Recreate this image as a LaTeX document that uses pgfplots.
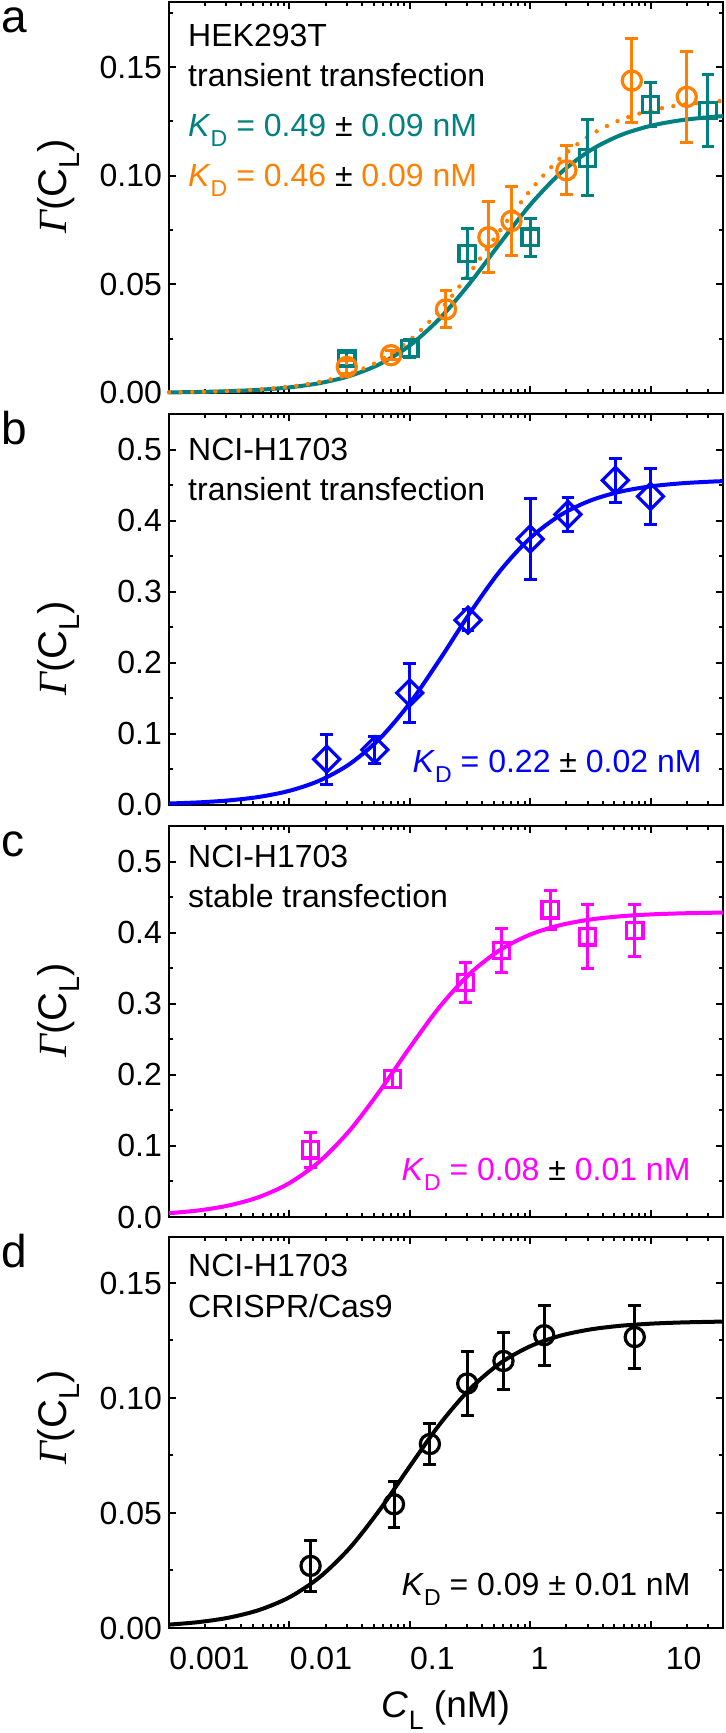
\documentclass[border=0pt]{standalone}
\usepackage{fontspec}
\setmainfont{Liberation Sans}
\newfontfamily\gfont{Liberation Serif}
\usepackage{graphicx}
\usepackage{pgfplots}
\pgfplotsset{compat=1.18}

\definecolor{tealc}{RGB}{0,128,128}
\definecolor{orangec}{RGB}{255,128,0}
\definecolor{bluec}{RGB}{0,0,255}
\definecolor{magc}{RGB}{255,0,255}

\newcommand\sub[1]{\raisebox{-0.32em}{\scalebox{0.72}{#1}}}
\newcommand\txt{\fontsize{16}{19}\selectfont}
\newcommand\gam{{\gfont\itshape Γ}(C\sub{L})}
\newcommand\KD[3]{\textcolor{#1}{\textit{K}\sub{D} = #2}~±~\textcolor{#1}{#3 nM}}
% y label of a panel, centred at a fraction of the axis height
\newcommand\ylab[1]{\node[rotate=90, anchor=center, inner sep=0pt, font=\fontsize{20}{22}\selectfont] at (axis description cs:-0.2,#1) {\gam};}

% shared axis settings
\pgfplotsset{
  scale only axis, width=277pt, height=195.5pt,
  tick align=inside,
  major tick length=3.4pt, minor tick length=1.8pt,
  every tick/.append style={line width=1pt, black},
  axis line style={line width=1.2pt},
  tick label style={font=\txt},
}

\begin{document}
\begin{tikzpicture}
\useasboundingbox (-84.5pt,0pt) rectangle (278.5pt,866.5pt);

% ---------------- a ----------------
\begin{axis}[at={(0pt,670pt)}, xmode=log, xmin=0.001, xmax=40,
  xtick={0.001,0.01,0.1,1,10},
  minor xtick={0.002,0.003,0.004,0.005,0.006,0.007,0.008,0.009,0.02,0.03,0.04,0.05,0.06,0.07,0.08,0.09,0.2,0.3,0.4,0.5,0.6,0.7,0.8,0.9,2,3,4,5,6,7,8,9,20,30,40},
  xticklabels={}, clip=false,
  ymin=0, ymax=0.18,
  ytick={0,0.05,0.1,0.15}, minor ytick={0.025,0.075,0.125,0.175},
  yticklabel style={/pgf/number format/fixed, /pgf/number format/fixed zerofill, /pgf/number format/precision=2, /pgf/number format/assume math mode=true}]
\addplot[tealc, line width=2pt, smooth] coordinates {
 (0.001,0.000263) (0.001778,0.000466) (0.003162,0.000827) (0.005623,0.001464)
 (0.01,0.00258) (0.01778,0.004517) (0.03162,0.00782) (0.05623,0.01328)
 (0.1,0.02186) (0.1778,0.03435) (0.3162,0.05060) (0.5623,0.06893)
 (1,0.08658) (1.778,0.10113) (3.162,0.11169) (5.623,0.11866)
 (10,0.12297) (17.78,0.12554) (31.62,0.12703) (40,0.12744)};
\addplot[orangec, line width=2.2pt, smooth, dash pattern=on 0pt off 5.8pt, line cap=round] coordinates {
 (0.001,0.000295) (0.001778,0.000524) (0.003162,0.000928) (0.005623,0.001642)
 (0.01,0.002894) (0.01778,0.005061) (0.03162,0.008747) (0.05623,0.014814)
 (0.1,0.024286) (0.1778,0.037913) (0.3162,0.055402) (0.5623,0.074805)
 (1,0.093151) (1.778,0.108046) (3.162,0.118728) (5.623,0.125716)
 (10,0.130019) (17.78,0.132570) (31.62,0.134050) (40,0.134454)};
\addplot[tealc, only marks, mark=square, mark size=4.1pt, line width=1.6pt,
  error bars/.cd, y dir=both, y explicit, error bar style={line width=1.5pt},
  error mark options={rotate=90, mark size=3.2pt, line width=1.5pt}]
  table[x=x, y=y, y error=e] {
x y e
0.03 0.0158 0.003
0.1 0.0205 0.004
0.3 0.0643 0.0115
1 0.0717 0.0088
3 0.1082 0.0175
10 0.1328 0.0099
30 0.1300 0.0164
};
\addplot[orangec, only marks, mark=o, mark size=4.8pt, line width=1.6pt,
  error bars/.cd, y dir=both, y explicit, error bar style={line width=1.5pt},
  error mark options={rotate=90, mark size=3.2pt, line width=1.5pt}]
  table[x=x, y=y, y error=e] {
x y e
0.03 0.0120 0.003
0.07 0.0174 0.002
0.2 0.0385 0.0085
0.45 0.0717 0.0163
0.7 0.0792 0.0157
2 0.1025 0.0112
7 0.1438 0.0195
20 0.1363 0.0210
};
\node[anchor=base west, font=\txt, inner sep=0pt] at (axis description cs:0.034,0.887) {HEK293T};
\node[anchor=base west, font=\txt, inner sep=0pt] at (axis description cs:0.034,0.785) {transient transfection};
\node[anchor=base west, font=\txt, inner sep=0pt] at (axis description cs:0.034,0.656) {\KD{tealc}{0.49}{0.09}};
\node[anchor=base west, font=\txt, inner sep=0pt] at (axis description cs:0.034,0.528) {\KD{orangec}{0.46}{0.09}};
\node[anchor=base west, inner sep=0pt, font=\fontsize{23}{25}\selectfont, xshift=-84pt, yshift=-15.5pt] at (axis description cs:0,1) {a};
\ylab{0.528}
\end{axis}

% ---------------- b ----------------
\begin{axis}[at={(0pt,464pt)}, xmode=log, xmin=0.001, xmax=40,
  xtick={0.001,0.01,0.1,1,10},
  minor xtick={0.002,0.003,0.004,0.005,0.006,0.007,0.008,0.009,0.02,0.03,0.04,0.05,0.06,0.07,0.08,0.09,0.2,0.3,0.4,0.5,0.6,0.7,0.8,0.9,2,3,4,5,6,7,8,9,20,30,40},
  xticklabels={}, clip=false,
  ymin=0, ymax=0.55,
  ytick={0,0.1,0.2,0.3,0.4,0.5}, minor ytick={0.05,0.15,0.25,0.35,0.45},
  yticklabel style={/pgf/number format/fixed, /pgf/number format/fixed zerofill, /pgf/number format/precision=1, /pgf/number format/assume math mode=true}]
\addplot[bluec, line width=2pt, smooth] coordinates {
 (0.001,0.002072) (0.001778,0.003672) (0.003162,0.006490) (0.005623,0.011414)
 (0.01,0.019913) (0.01778,0.034247) (0.03162,0.057555) (0.05623,0.093231)
 (0.1,0.143125) (0.1778,0.204707) (0.3162,0.270085) (0.5623,0.329200)
 (1,0.375410) (1.778,0.407570) (3.162,0.428207) (5.623,0.440755)
 (10,0.448141) (17.78,0.452402) (31.62,0.454835) (40,0.455495)};
\addplot[bluec, only marks, mark=square, mark size=4.6pt, mark options={rotate=45}, line width=1.6pt,
  error bars/.cd, y dir=both, y explicit, error bar style={line width=1.5pt},
  error mark options={rotate=90, mark size=3.2pt, line width=1.5pt}]
  table[x=x, y=y, y error=e] {
x y e
0.0204 0.0645 0.0353
0.0513 0.0777 0.019
0.1 0.1577 0.0417
0.305 0.260 0.015
1 0.374 0.0567
2.06 0.4087 0.024
5.1 0.4567 0.031
10 0.434 0.040
};
\node[anchor=base west, font=\txt, inner sep=0pt] at (axis description cs:0.034,0.880) {NCI-H1703};
\node[anchor=base west, font=\txt, inner sep=0pt] at (axis description cs:0.034,0.778) {transient transfection};
\node[anchor=base east, font=\txt, inner sep=0pt] at (axis description cs:0.962,0.084) {\KD{bluec}{0.22}{0.02}};
\node[anchor=base west, inner sep=0pt, font=\fontsize{23}{25}\selectfont, xshift=-84pt, yshift=-15.5pt] at (axis description cs:0,1) {b};
\ylab{0.40}
\end{axis}

% ---------------- c ----------------
\begin{axis}[at={(0pt,258pt)}, xmode=log, xmin=0.001, xmax=40,
  xtick={0.001,0.01,0.1,1,10},
  minor xtick={0.002,0.003,0.004,0.005,0.006,0.007,0.008,0.009,0.02,0.03,0.04,0.05,0.06,0.07,0.08,0.09,0.2,0.3,0.4,0.5,0.6,0.7,0.8,0.9,2,3,4,5,6,7,8,9,20,30,40},
  xticklabels={}, clip=false,
  ymin=0, ymax=0.55,
  ytick={0,0.1,0.2,0.3,0.4,0.5}, minor ytick={0.05,0.15,0.25,0.35,0.45},
  yticklabel style={/pgf/number format/fixed, /pgf/number format/fixed zerofill, /pgf/number format/precision=1, /pgf/number format/assume math mode=true}]
\addplot[magc, line width=2pt, smooth] coordinates {
 (0.001,0.005296) (0.001778,0.009327) (0.003162,0.016312) (0.005623,0.028173)
 (0.01,0.047667) (0.01778,0.078008) (0.03162,0.121528) (0.05623,0.177073)
 (0.1,0.238333) (0.1778,0.295874) (0.3162,0.342377) (0.5623,0.375567)
 (1,0.397222) (1.778,0.410529) (3.162,0.418414) (5.623,0.422982)
 (10,0.425595) (17.78,0.427078) (31.62,0.427917) (40,0.428144)};
\addplot[magc, only marks, mark=square, mark size=4.1pt, line width=1.6pt,
  error bars/.cd, y dir=both, y explicit, error bar style={line width=1.5pt},
  error mark options={rotate=90, mark size=3.2pt, line width=1.5pt}]
  table[x=x, y=y, y error=e] {
x y e
0.015 0.0944 0.025
0.072 0.194 0.012
0.29 0.330 0.028
0.58 0.375 0.031
1.47 0.432 0.027
3 0.394 0.045
7.4 0.403 0.036
};
\node[anchor=base west, font=\txt, inner sep=0pt] at (axis description cs:0.034,0.893) {NCI-H1703};
\node[anchor=base west, font=\txt, inner sep=0pt] at (axis description cs:0.034,0.791) {stable transfection};
\node[anchor=base east, font=\txt, inner sep=0pt] at (axis description cs:0.942,0.094) {\KD{magc}{0.08}{0.01}};
\node[anchor=base west, inner sep=0pt, font=\fontsize{23}{25}\selectfont, xshift=-84pt, yshift=-15.5pt] at (axis description cs:0,1) {c};
\ylab{0.528}
\end{axis}

% ---------------- d ----------------
\begin{axis}[at={(0pt,52.5pt)}, xmode=log, xmin=0.001, xmax=40,
  xtick={0.001,0.01,0.1,1,10},
  minor xtick={0.002,0.003,0.004,0.005,0.006,0.007,0.008,0.009,0.02,0.03,0.04,0.05,0.06,0.07,0.08,0.09,0.2,0.3,0.4,0.5,0.6,0.7,0.8,0.9,2,3,4,5,6,7,8,9,20,30,40},
  xticklabels={0.001,0.01,0.1,1,\hspace*{7.5pt}10},
  xticklabel style={anchor=north west, inner sep=0pt, yshift=-9.5pt},
  clip=false,
  ymin=0, ymax=0.17,
  ytick={0,0.05,0.1,0.15}, minor ytick={0.025,0.075,0.125},
  yticklabel style={/pgf/number format/fixed, /pgf/number format/fixed zerofill, /pgf/number format/precision=2, /pgf/number format/assume math mode=true},
  xlabel={\textit{C}\sub{L} (nM)},
  xlabel style={at={(axis description cs:0.5,0)}, anchor=base, yshift=-45pt, font=\fontsize{18.5}{20}\selectfont}]
\addplot[black, line width=2pt, smooth] coordinates {
 (0.001,0.001467) (0.001778,0.002586) (0.003162,0.004531) (0.005623,0.007850)
 (0.01,0.01335) (0.01778,0.022023) (0.03162,0.034709) (0.05623,0.051335)
 (0.1,0.070263) (0.1778,0.088635) (0.3162,0.103921) (0.5623,0.115081)
 (1,0.122477) (1.778,0.127068) (3.162,0.129805) (5.623,0.131397)
 (10,0.132309) (17.78,0.132828) (31.62,0.133121) (40,0.133200)};
\addplot[black, only marks, mark=o, mark size=4.8pt, line width=1.6pt,
  error bars/.cd, y dir=both, y explicit, error bar style={line width=1.5pt},
  error mark options={rotate=90, mark size=3.2pt, line width=1.5pt}]
  table[x=x, y=y, y error=e] {
x y e
0.015 0.0270 0.011
0.074 0.0538 0.010
0.147 0.0800 0.009
0.30 0.1063 0.0138
0.60 0.1161 0.0122
1.31 0.1273 0.0131
7.4 0.1265 0.0136
};
\node[anchor=base west, font=\txt, inner sep=0pt] at (axis description cs:0.034,0.898) {NCI-H1703};
\node[anchor=base west, font=\txt, inner sep=0pt] at (axis description cs:0.034,0.795) {CRISPR/Cas9};
\node[anchor=base east, font=\txt, inner sep=0pt] at (axis description cs:0.942,0.084) {\KD{black}{0.09}{0.01}};
\node[anchor=base west, inner sep=0pt, font=\fontsize{23}{25}\selectfont, xshift=-84pt, yshift=-15.5pt] at (axis description cs:0,1) {d};
\ylab{0.538}
\end{axis}
\end{tikzpicture}
\end{document}
